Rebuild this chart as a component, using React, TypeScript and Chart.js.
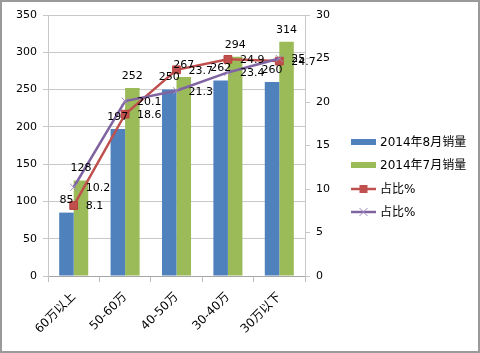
import React, { useEffect, useRef } from "react";
import { Chart, registerables } from "chart.js";

Chart.register(...registerables);

const categories = ["60万以上", "50-60万", "40-50万", "30-40万", "30万以下"];
const augSales = [85, 197, 250, 262, 260];
const julSales = [128, 252, 267, 294, 314];
const shareA = [8.1, 18.6, 23.7, 24.9, 24.7];
const shareB = [10.2, 20.1, 21.3, 23.4, 25];
const seriesNames = ["2014年8月销量", "2014年7月销量", "占比%", "占比%"];

const FONT = '"DejaVu Sans", "Noto Sans CJK SC", sans-serif';

const frame = {
  id: "frame",
  beforeDraw(chart: any) {
    const ctx = chart.ctx;
    ctx.save();
    ctx.fillStyle = "#ffffff";
    ctx.fillRect(0, 0, chart.width, chart.height);
    ctx.restore();
  },
  afterDraw(chart: any) {
    const ctx = chart.ctx;
    ctx.save();
    ctx.strokeStyle = "#9a9a9a";
    ctx.lineWidth = 2;
    ctx.strokeRect(1, 1, chart.width - 2, chart.height - 2);
    ctx.restore();
  },
};

const dataLabels = {
  id: "dataLabels",
  afterDatasetsDraw(chart: any) {
    const ctx = chart.ctx;
    ctx.save();
    ctx.font = "11px " + FONT;
    ctx.fillStyle = "#000";
    chart.data.datasets.forEach((ds: any, i: number) => {
      const meta = chart.getDatasetMeta(i);
      meta.data.forEach((el: any, j: number) => {
        const v = ds.data[j];
        if (ds.type === "line") {
          ctx.textAlign = "left";
          ctx.textBaseline = "middle";
          ctx.fillText(String(v), el.x + 12, el.y + 1);
        } else {
          ctx.textAlign = "center";
          ctx.textBaseline = "middle";
          ctx.fillText(String(v), el.x, el.y - 12);
        }
      });
    });
    ctx.restore();
  },
};

const customLegend = {
  id: "customLegend",
  afterDraw(chart: any) {
    const ctx = chart.ctx;
    const x0 = 351;
    const ys = [142, 165, 189, 212];
    ctx.save();
    ctx.font = "12px " + FONT;
    ctx.textAlign = "left";
    ctx.textBaseline = "middle";
    chart.data.datasets.forEach((ds: any, i: number) => {
      const y = ys[i];
      if (ds.type === "line") {
        ctx.strokeStyle = ds.borderColor;
        ctx.lineWidth = 2.5;
        ctx.beginPath();
        ctx.moveTo(x0, y);
        ctx.lineTo(x0 + 25, y);
        ctx.stroke();
        const cx = x0 + 12.5;
        if (ds.pointStyle === "rect") {
          ctx.fillStyle = ds.pointBackgroundColor;
          ctx.fillRect(cx - 4, y - 4, 8, 8);
        } else {
          ctx.strokeStyle = ds.pointBorderColor;
          ctx.lineWidth = 1;
          ctx.beginPath();
          ctx.moveTo(cx - 4, y - 4);
          ctx.lineTo(cx + 4, y + 4);
          ctx.moveTo(cx + 4, y - 4);
          ctx.lineTo(cx - 4, y + 4);
          ctx.stroke();
        }
      } else {
        ctx.fillStyle = ds.backgroundColor;
        ctx.fillRect(x0, y - 3, 25, 6);
      }
      ctx.fillStyle = "#000";
      ctx.fillText(ds.label, x0 + 29, y + 1);
    });
    ctx.restore();
  },
};

export default function App() {
  const ref = useRef<HTMLCanvasElement>(null);
  useEffect(() => {
    const canvas = ref.current!;
    const chart = new Chart(canvas, {
      type: "bar",
      data: {
        labels: categories,
        datasets: [
          {
            type: "bar",
            label: seriesNames[0],
            data: augSales,
            backgroundColor: "#4F81BD",
            yAxisID: "y",
            order: 2,
            categoryPercentage: 0.565,
            barPercentage: 1,
          } as any,
          {
            type: "bar",
            label: seriesNames[1],
            data: julSales,
            backgroundColor: "#9BBB59",
            yAxisID: "y",
            order: 2,
            categoryPercentage: 0.565,
            barPercentage: 1,
          } as any,
          {
            type: "line",
            label: seriesNames[2],
            data: shareA,
            borderColor: "#C0504D",
            borderWidth: 2.5,
            pointStyle: "rect",
            pointRadius: 5.5,
            pointBackgroundColor: "#C0504D",
            pointBorderColor: "#B9423E",
            pointBorderWidth: 1,
            yAxisID: "y1",
            order: 1,
            tension: 0,
          } as any,
          {
            type: "line",
            label: seriesNames[3],
            data: shareB,
            borderColor: "#8064A2",
            borderWidth: 2.5,
            pointStyle: "crossRot",
            pointRadius: 5,
            pointBorderColor: "#A08CC0",
            pointBackgroundColor: "#A08CC0",
            pointBorderWidth: 1,
            yAxisID: "y1",
            order: 0,
            tension: 0,
          } as any,
        ],
      },
      options: {
        responsive: false,
        animation: false,
        devicePixelRatio: 1,
        layout: { padding: { top: 15, left: 0, right: 0, bottom: 0 } },
        plugins: {
          legend: { display: false },
          tooltip: { enabled: false },
        },
        scales: {
          x: {
            offset: true,
            grid: {
              display: true,
              drawOnChartArea: false,
              drawTicks: true,
              tickLength: 6,
              color: "#bdbdbd",
              offset: true,
            },
            border: { display: true, color: "#a6a6a6" },
            ticks: {
              font: { family: FONT, size: 12 },
              color: "#000",
              minRotation: 45,
              maxRotation: 45,
              padding: 8,
            },
            afterFit(scale: any) {
              scale.height = 77;
            },
          },
          y: {
            position: "left",
            min: 0,
            max: 350,
            ticks: {
              stepSize: 50,
              font: { family: FONT, size: 11 },
              color: "#000",
              padding: 6,
            },
            grid: {
              color: "#c8c8c8",
              tickLength: 5,
              tickColor: "#c8c8c8",
            },
            border: { display: true, color: "#c8c8c8" },
            afterFit(scale: any) {
              scale.width = 48;
            },
          },
          y1: {
            position: "right",
            min: 0,
            max: 30,
            ticks: {
              stepSize: 5,
              font: { family: FONT, size: 11 },
              color: "#000",
              padding: 6,
            },
            grid: {
              drawOnChartArea: false,
              tickLength: 5,
              tickColor: "#c8c8c8",
            },
            border: { display: true, color: "#c8c8c8" },
            afterFit(scale: any) {
              scale.width = 175;
            },
          },
        },
      },
      plugins: [frame, dataLabels, customLegend],
    } as any);
    return () => chart.destroy();
  }, []);
  return (
    <div style={{ position: "absolute", left: 0, top: 0, width: 480, height: 353 }}>
      <canvas ref={ref} width={480} height={353} style={{ display: "block" }} />
    </div>
  );
}
